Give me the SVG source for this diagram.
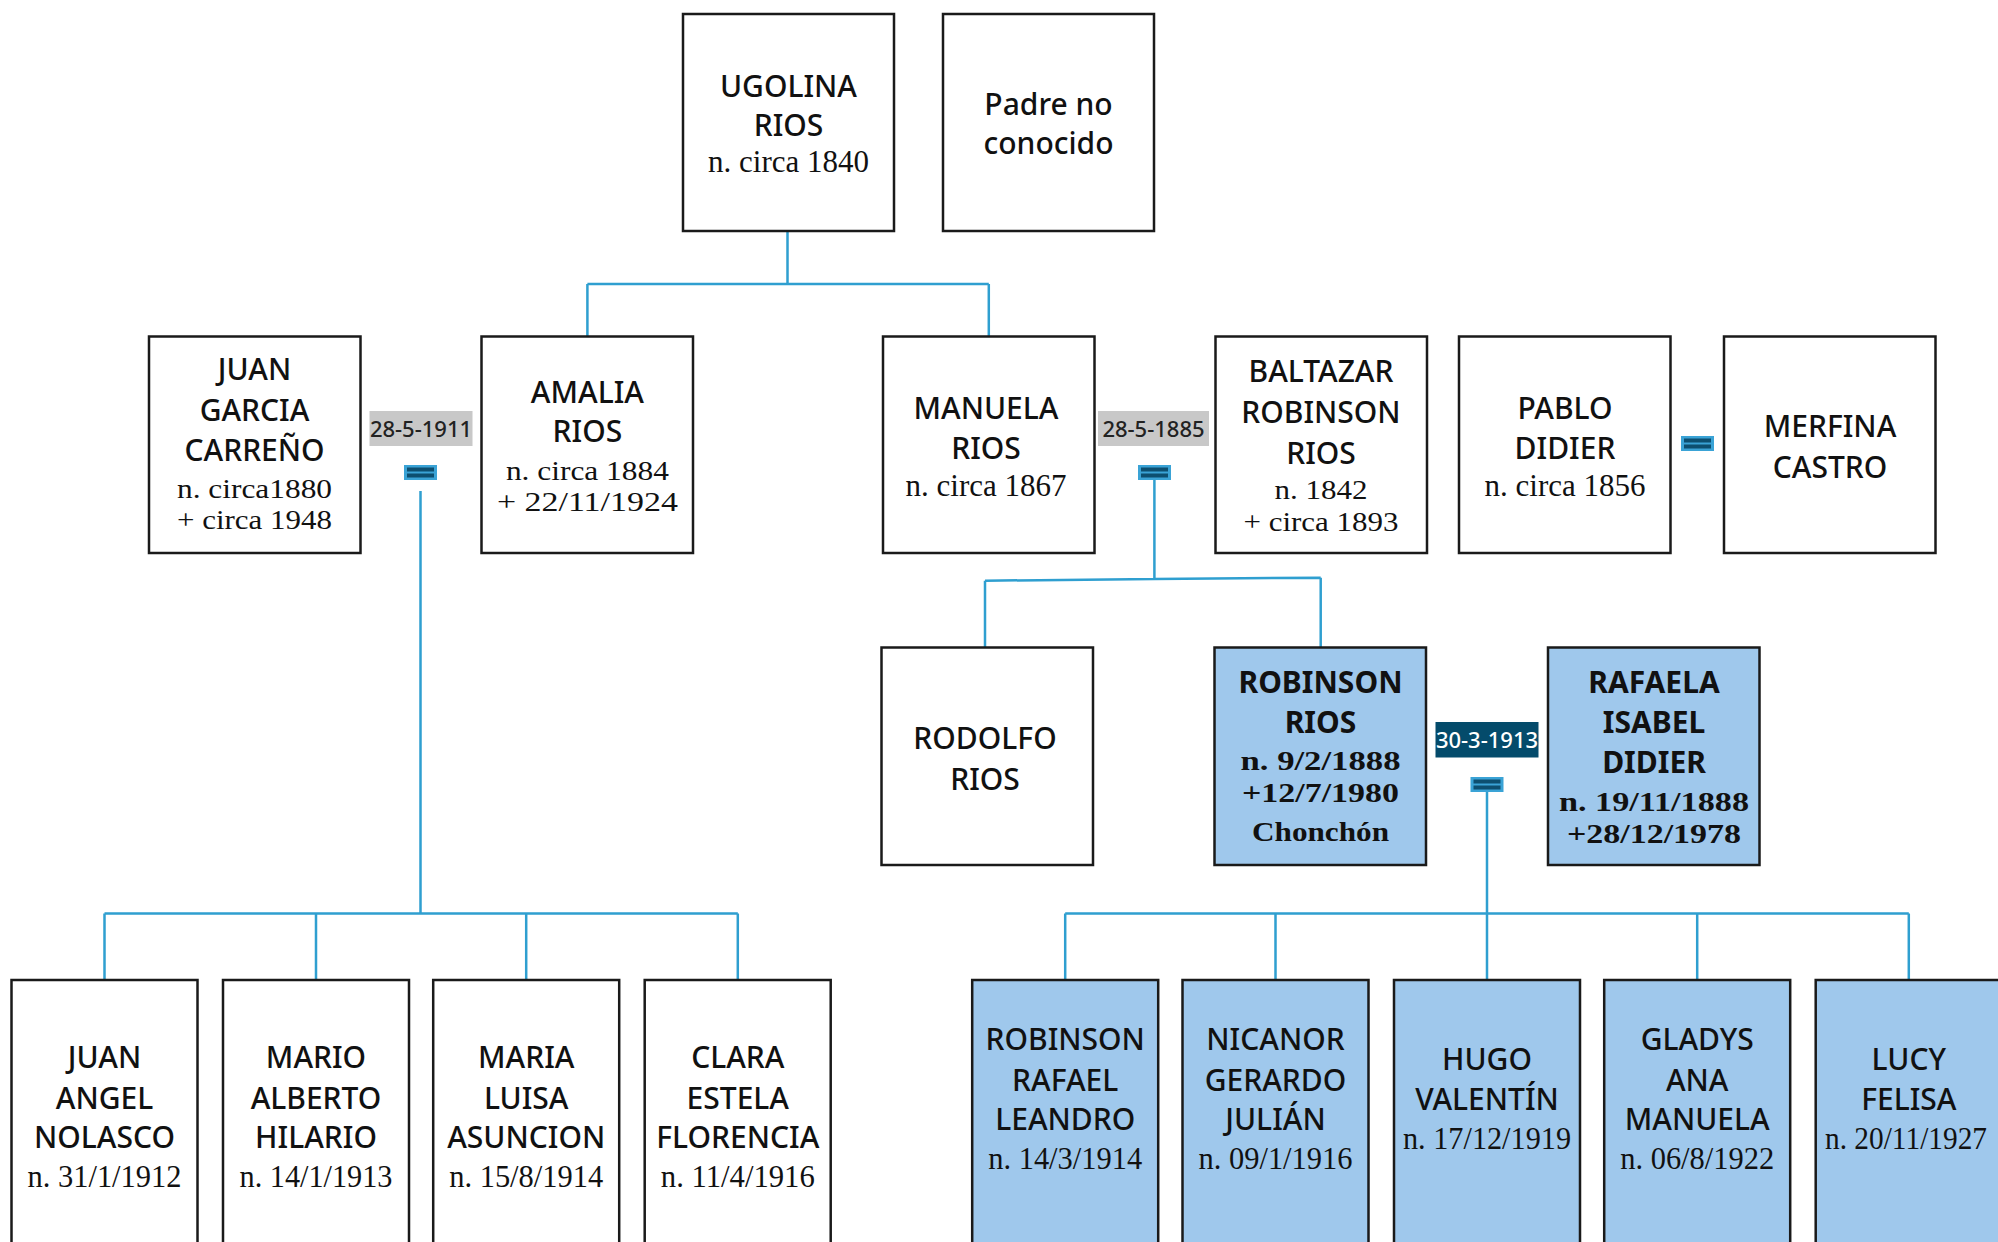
<svg xmlns="http://www.w3.org/2000/svg" width="1998" height="1242" viewBox="0 0 1998 1242">
<style>
.box{fill:#ffffff;stroke:#1a1a1a;stroke-width:2.5}
.blue{fill:#9fc8ec}
.nm{font-family:"Noto Sans","Open Sans",sans-serif;font-size:30px;font-weight:500;text-anchor:middle;fill:#111}
.nb{font-weight:bold}
.dt{font-family:"Liberation Serif","Times New Roman",serif;font-size:28px;text-anchor:middle;fill:#111}
.d1{font-size:31px}
.db{font-family:"Liberation Serif","Times New Roman",serif;font-size:28px;font-weight:bold;text-anchor:middle;fill:#111}
.ds{font-size:32px}
.con{fill:none;stroke:#2f9fd0;stroke-width:2.5}
.lbl{fill:#c8c8c8}
.lbld{fill:#044b6b}
.lt{font-family:"Noto Sans","Open Sans",sans-serif;font-size:22px;font-weight:500;text-anchor:middle;fill:#222}
.ltw{fill:#ffffff}
.eqbg{fill:#3aa3d6}
.eqbar{fill:#0d4f70}
</style>
<defs>
<g id="eq">
<rect class="eqbg" x="0" y="0" width="33" height="15"/>
<rect class="eqbar" x="3" y="2.5" width="27" height="4"/>
<rect class="eqbar" x="3" y="8.5" width="27" height="4"/>
</g>
</defs>

<g id="connectors">
<path class="con" d="M787.5,231 V284 M587.4,284 H988.8 M587.4,284 V336 M988.8,284 V336"/>
<path class="con" d="M420.5,491 V913.6 M104.5,913.6 H737.8 M104.5,913.6 V980 M316,913.6 V980 M526.2,913.6 V980 M737.8,913.6 V980"/>
<path class="con" d="M1154.4,480 V579 M985,580.7 L1154.4,579 L1320.7,577.7 M985,580.7 V647 M1320.7,577.7 V647"/>
<path class="con" d="M1487,792 V913.6 M1065.2,913.6 H1908.8 M1065.2,913.6 V980 M1275.5,913.6 V980 M1487,913.6 V980 M1697.2,913.6 V980 M1908.8,913.6 V980"/>
</g>

<g id="marriage1">
<rect class="lbl" x="369.5" y="411" width="103" height="35"/>
<text class="lt" x="421" y="437">28-5-1911</text>
<use href="#eq" x="404" y="465"/>
</g>
<g id="marriage2">
<rect class="lbl" x="1098" y="411" width="111" height="35"/>
<text class="lt" x="1153.5" y="437">28-5-1885</text>
<use href="#eq" x="1138" y="465"/>
</g>
<g id="marriage3">
<rect class="lbld" x="1435.5" y="722" width="103" height="35.5"/>
<text class="lt ltw" x="1487" y="748">30-3-1913</text>
<use href="#eq" x="1470.5" y="777"/>
</g>
<g id="marriage4">
<use href="#eq" x="1681" y="436"/>
</g>

<g id="ugolina">
<rect class="box" x="683" y="14" width="211" height="217"/>
<text class="nm" x="788.5" y="97">UGOLINA</text>
<text class="nm" x="788.5" y="136">RIOS</text>
<text class="dt d1" x="788.5" y="172">n. circa 1840</text>
</g>
<g id="padre">
<rect class="box" x="943" y="14" width="211" height="217"/>
<text class="nm" x="1048.5" y="115">Padre no</text>
<text class="nm" x="1048.5" y="154">conocido</text>
</g>

<g id="juan-garcia">
<rect class="box" x="149" y="336.5" width="211.5" height="216.5"/>
<text class="nm" x="254.5" y="380">JUAN</text>
<text class="nm" x="254.5" y="420.5">GARCIA</text>
<text class="nm" x="254.5" y="461">CARREÑO</text>
<text class="dt" x="254.5" y="497.5" textLength="155" lengthAdjust="spacingAndGlyphs">n. circa1880</text>
<text class="dt" x="254.5" y="529" textLength="155" lengthAdjust="spacingAndGlyphs">+ circa 1948</text>
</g>
<g id="amalia">
<rect class="box" x="481.5" y="336.5" width="211.5" height="216.5"/>
<text class="nm" x="587.4" y="402.6">AMALIA</text>
<text class="nm" x="587.4" y="442">RIOS</text>
<text class="dt" x="587.4" y="479.5" textLength="163" lengthAdjust="spacingAndGlyphs">n. circa 1884</text>
<text class="dt" x="587.4" y="511" textLength="181" lengthAdjust="spacingAndGlyphs">+ 22/11/1924</text>
</g>
<g id="manuela">
<rect class="box" x="883" y="336.5" width="211.5" height="216.5"/>
<text class="nm" x="986" y="419">MANUELA</text>
<text class="nm" x="986" y="459">RIOS</text>
<text class="dt d1" x="986" y="496">n. circa 1867</text>
</g>
<g id="baltazar">
<rect class="box" x="1215.5" y="336.5" width="211.5" height="216.5"/>
<text class="nm" x="1321" y="382">BALTAZAR</text>
<text class="nm" x="1321" y="423">ROBINSON</text>
<text class="nm" x="1321" y="464">RIOS</text>
<text class="dt" x="1321" y="499" textLength="93" lengthAdjust="spacingAndGlyphs">n. 1842</text>
<text class="dt" x="1321" y="530.5" textLength="155" lengthAdjust="spacingAndGlyphs">+ circa 1893</text>
</g>
<g id="pablo">
<rect class="box" x="1459" y="336.5" width="211.5" height="216.5"/>
<text class="nm" x="1565" y="419">PABLO</text>
<text class="nm" x="1565" y="459">DIDIER</text>
<text class="dt d1" x="1565" y="496">n. circa 1856</text>
</g>
<g id="merfina">
<rect class="box" x="1724" y="336.5" width="211.5" height="216.5"/>
<text class="nm" x="1830" y="437">MERFINA</text>
<text class="nm" x="1830" y="478">CASTRO</text>
</g>

<g id="rodolfo">
<rect class="box" x="881.5" y="647.5" width="211.5" height="217.5"/>
<text class="nm" x="985" y="749">RODOLFO</text>
<text class="nm" x="985" y="790">RIOS</text>
</g>
<g id="robinson-rios">
<rect class="box blue" x="1214.5" y="647.5" width="211.5" height="217.5"/>
<text class="nm nb" x="1320.5" y="693">ROBINSON</text>
<text class="nm nb" x="1320.5" y="733">RIOS</text>
<text class="db" x="1320.5" y="770" textLength="160" lengthAdjust="spacingAndGlyphs">n. 9/2/1888</text>
<text class="db" x="1320.5" y="801.5" textLength="157" lengthAdjust="spacingAndGlyphs">+12/7/1980</text>
<text class="db" x="1320.5" y="841" textLength="137" lengthAdjust="spacingAndGlyphs">Chonchón</text>
</g>
<g id="rafaela">
<rect class="box blue" x="1548" y="647.5" width="211.5" height="217.5"/>
<text class="nm nb" x="1654" y="693">RAFAELA</text>
<text class="nm nb" x="1654" y="733">ISABEL</text>
<text class="nm nb" x="1654" y="773">DIDIER</text>
<text class="db" x="1654" y="811" textLength="190" lengthAdjust="spacingAndGlyphs">n. 19/11/1888</text>
<text class="db" x="1654" y="842.5" textLength="174" lengthAdjust="spacingAndGlyphs">+28/12/1978</text>
</g>

<g id="juan-angel">
<rect class="box" x="11.5" y="980" width="186" height="280"/>
<text class="nm" x="104.5" y="1068">JUAN</text>
<text class="nm" x="104.5" y="1108.5">ANGEL</text>
<text class="nm" x="104.5" y="1148">NOLASCO</text>
<text class="dt ds" x="104.5" y="1187" textLength="154" lengthAdjust="spacingAndGlyphs">n. 31/1/1912</text>
</g>
<g id="mario">
<rect class="box" x="223" y="980" width="186" height="280"/>
<text class="nm" x="316" y="1068">MARIO</text>
<text class="nm" x="316" y="1108.5">ALBERTO</text>
<text class="nm" x="316" y="1148">HILARIO</text>
<text class="dt ds" x="316" y="1187" textLength="153" lengthAdjust="spacingAndGlyphs">n. 14/1/1913</text>
</g>
<g id="maria-luisa">
<rect class="box" x="433.2" y="980" width="186" height="280"/>
<text class="nm" x="526.2" y="1068">MARIA</text>
<text class="nm" x="526.2" y="1108.5">LUISA</text>
<text class="nm" x="526.2" y="1148">ASUNCION</text>
<text class="dt ds" x="526.2" y="1187" textLength="154" lengthAdjust="spacingAndGlyphs">n. 15/8/1914</text>
</g>
<g id="clara">
<rect class="box" x="644.7" y="980" width="186" height="280"/>
<text class="nm" x="737.8" y="1068">CLARA</text>
<text class="nm" x="737.8" y="1108.5">ESTELA</text>
<text class="nm" x="737.8" y="1148">FLORENCIA</text>
<text class="dt ds" x="737.8" y="1187" textLength="154" lengthAdjust="spacingAndGlyphs">n. 11/4/1916</text>
</g>

<g id="robinson-rafael">
<rect class="box blue" x="972.2" y="980" width="186" height="280"/>
<text class="nm" x="1065.2" y="1050">ROBINSON</text>
<text class="nm" x="1065.2" y="1091">RAFAEL</text>
<text class="nm" x="1065.2" y="1130">LEANDRO</text>
<text class="dt ds" x="1065.2" y="1169" textLength="154" lengthAdjust="spacingAndGlyphs">n. 14/3/1914</text>
</g>
<g id="nicanor">
<rect class="box blue" x="1182.5" y="980" width="186" height="280"/>
<text class="nm" x="1275.5" y="1050">NICANOR</text>
<text class="nm" x="1275.5" y="1091">GERARDO</text>
<text class="nm" x="1275.5" y="1130">JULIÁN</text>
<text class="dt ds" x="1275.5" y="1169" textLength="154" lengthAdjust="spacingAndGlyphs">n. 09/1/1916</text>
</g>
<g id="hugo">
<rect class="box blue" x="1394" y="980" width="186" height="280"/>
<text class="nm" x="1487" y="1070">HUGO</text>
<text class="nm" x="1487" y="1110">VALENTÍN</text>
<text class="dt ds" x="1487" y="1149" textLength="168" lengthAdjust="spacingAndGlyphs">n. 17/12/1919</text>
</g>
<g id="gladys">
<rect class="box blue" x="1604.2" y="980" width="186" height="280"/>
<text class="nm" x="1697.2" y="1050">GLADYS</text>
<text class="nm" x="1697.2" y="1091">ANA</text>
<text class="nm" x="1697.2" y="1130">MANUELA</text>
<text class="dt ds" x="1697.2" y="1169" textLength="154" lengthAdjust="spacingAndGlyphs">n. 06/8/1922</text>
</g>
<g id="lucy">
<rect class="box blue" x="1815.7" y="980" width="186" height="280"/>
<text class="nm" x="1908.8" y="1070">LUCY</text>
<text class="nm" x="1908.8" y="1110">FELISA</text>
<text class="dt ds" x="1906" y="1149" textLength="162" lengthAdjust="spacingAndGlyphs">n. 20/11/1927</text>
</g>
</svg>
